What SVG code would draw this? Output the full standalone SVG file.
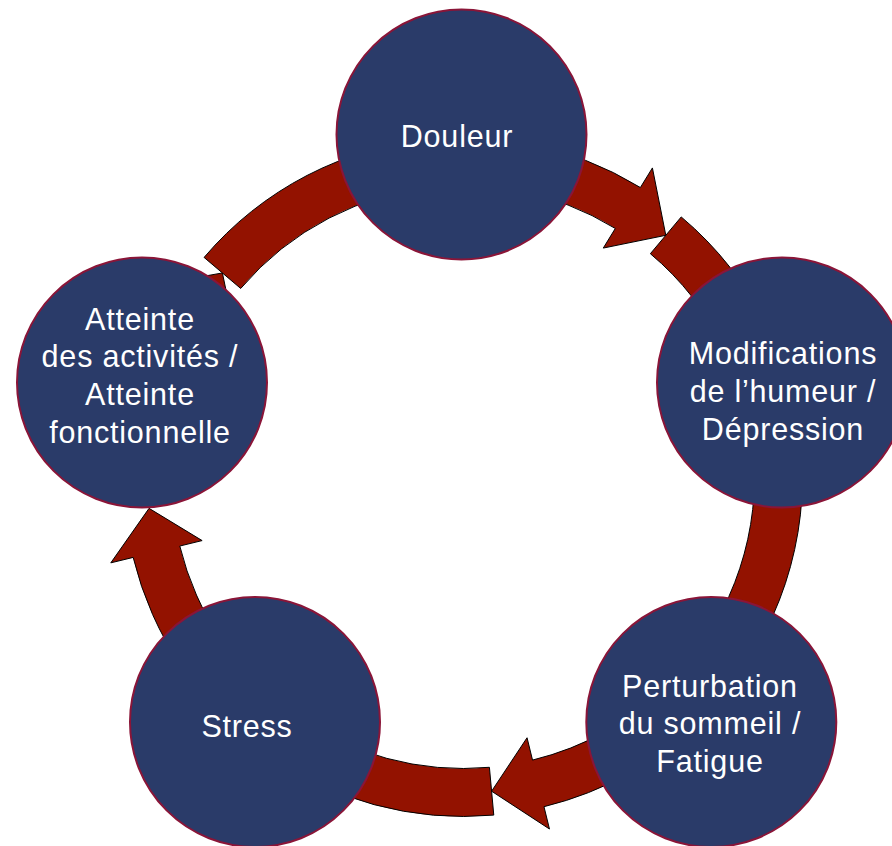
<svg xmlns="http://www.w3.org/2000/svg" width="892" height="846" viewBox="0 0 892 846">
<style>
.arrow{fill:#931200;stroke:#000;stroke-width:1;stroke-linejoin:miter}
.node circle{fill:#2A3B69;stroke:#8A1538;stroke-width:2}
.node text{fill:#fff;font-family:"Liberation Sans",Arial,sans-serif;font-size:30.5px;letter-spacing:0.8px;text-anchor:middle}
</style>
<rect width="892" height="846" fill="#fff"/>
<g id="connectors">
<path class="arrow" d="M 404.05 142.66 A 339.5 339.5 0 0 1 640.39 187.53 L 652.41 167.92 L 665.80 235.31 L 603.29 248.07 L 615.31 228.46 A 291.5 291.5 0 0 0 412.38 189.93 Z"/>
<path class="arrow" d="M 681.23 216.93 A 339.5 339.5 0 0 1 703.06 717.06 L 669.12 683.12 A 291.5 291.5 0 0 0 650.37 253.70 Z"/>
<path class="arrow" d="M 703.06 717.06 A 339.5 339.5 0 0 1 543.98 806.70 L 549.47 829.03 L 491.59 791.20 L 527.05 737.75 L 532.53 760.08 A 291.5 291.5 0 0 0 669.12 683.12 Z"/>
<path class="arrow" d="M 493.77 815.10 A 339.5 339.5 0 0 1 133.16 557.41 L 110.81 562.85 L 149.06 508.34 L 202.14 540.59 L 179.79 546.04 A 291.5 291.5 0 0 0 489.42 767.30 Z"/>
<path class="arrow" d="M 123.5 477 A 339.5 339.5 0 0 1 175.09 297.09 L 155.58 284.90 L 222.40 272.94 L 235.30 334.72 L 215.79 322.53 A 291.5 291.5 0 0 0 171.5 477 Z"/>
<path class="arrow" d="M 204.09 257.41 A 339.5 339.5 0 0 1 433.41 138.79 L 437.59 186.61 A 291.5 291.5 0 0 0 240.70 288.46 Z"/>
</g>
<g id="douleur" class="node">
<circle cx="461.5" cy="134.5" r="125"/>
<text x="457" y="146.5">Douleur</text>
</g>
<g id="modifications" class="node">
<circle cx="782" cy="382.5" r="125"/>
<text x="783" y="364">Modifications</text>
<text x="783" y="401.7">de l’humeur /</text>
<text x="783" y="440">Dépression</text>
</g>
<g id="perturbation" class="node">
<circle cx="711.3" cy="722" r="125"/>
<text x="710" y="696.7">Perturbation</text>
<text x="710" y="734.3">du sommeil /</text>
<text x="710" y="772">Fatigue</text>
</g>
<g id="stress" class="node">
<circle cx="255" cy="722" r="125"/>
<text x="247" y="736.7">Stress</text>
</g>
<g id="atteinte" class="node">
<circle cx="142" cy="382.5" r="125"/>
<text x="140" y="329.7">Atteinte</text>
<text x="140" y="367.3">des activités /</text>
<text x="140" y="405">Atteinte</text>
<text x="140" y="442.6">fonctionnelle</text>
</g>
</svg>
